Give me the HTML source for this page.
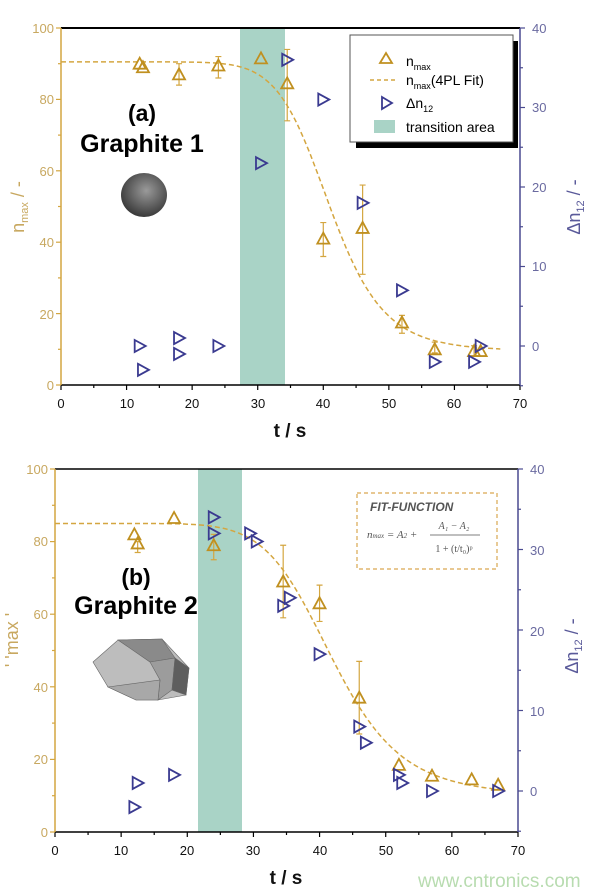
<!DOCTYPE html>
<html><head><meta charset="utf-8"><style>
body{margin:0;background:#fff;width:600px;height:895px;overflow:hidden}
svg{display:block;font-family:"Liberation Sans",Arial,sans-serif}
.tl{fill:#c8a860;font-size:13px}
.tr{fill:#6a6aa0;font-size:13px}
.tx{fill:#111;font-size:13px;text-anchor:middle}
</style></head><body>
<svg id="s" width="600" height="895" viewBox="0 0 600 895" xmlns="http://www.w3.org/2000/svg">
<!-- TOP CHART -->
<rect x="240" y="28" width="45" height="357" fill="#a9d3c6"/>
<g id="top"></g>
<line x1="61" y1="28" x2="520" y2="28" stroke="#000" stroke-width="2"/>
<line x1="61" y1="385" x2="520" y2="385" stroke="#000" stroke-width="1.5"/>
<line x1="61" y1="28" x2="61" y2="385" stroke="#d4a640" stroke-width="1.5"/>
<line x1="520" y1="28" x2="520" y2="385" stroke="#4a4a90" stroke-width="1.5"/>
<g class="tl" text-anchor="end">
<text x="54" y="33">100</text><text x="54" y="104">80</text><text x="54" y="176">60</text><text x="54" y="247">40</text><text x="54" y="319">20</text><text x="54" y="390">0</text></g>
<g class="tr"><text x="532" y="33">40</text><text x="532" y="112">30</text><text x="532" y="192">20</text><text x="532" y="271">10</text><text x="532" y="351">0</text></g>
<g class="tx"><text x="61" y="408">0</text><text x="127" y="408">10</text><text x="192" y="408">20</text><text x="258" y="408">30</text><text x="323" y="408">40</text><text x="389" y="408">50</text><text x="454" y="408">60</text><text x="520" y="408">70</text></g>
<text x="290" y="437" font-size="19" font-weight="bold" text-anchor="middle" fill="#111">t / s</text>
<text x="142" y="121" font-size="23" font-weight="bold" text-anchor="middle">(a)</text>
<text x="142" y="152" font-size="25" font-weight="bold" text-anchor="middle">Graphite 1</text>
<defs><radialGradient id="g1" cx="0.55" cy="0.4" r="0.6"><stop offset="0" stop-color="#9a9a9a"/><stop offset="1" stop-color="#3a3a3a"/></radialGradient></defs>
<ellipse cx="144" cy="195" rx="23" ry="22" fill="url(#g1)"/>
<text transform="translate(24,207) rotate(-90)" font-size="18" fill="#c8a860" text-anchor="middle">n<tspan font-size="11" dy="4">max</tspan><tspan dy="-4"> / -</tspan></text>
<text transform="translate(580,207) rotate(-90)" font-size="18" fill="#5a5a9a" text-anchor="middle">Δn<tspan font-size="11" dy="4">12</tspan><tspan dy="-4"> / -</tspan></text>
<!-- legend -->
<rect x="356" y="41" width="162" height="107" fill="#000"/>
<rect x="350" y="35" width="163" height="107" fill="#fff" stroke="#555" stroke-width="1"/>
<path d="M380,63 L386,53 L392,63 Z" fill="none" stroke="#c09020" stroke-width="1.8"/>
<text x="406" y="66" font-size="14">n<tspan font-size="9" dy="4">max</tspan></text>
<line x1="370" y1="80" x2="398" y2="80" stroke="#d4a640" stroke-width="1.5" stroke-dasharray="4,3"/>
<text x="406" y="85" font-size="14">n<tspan font-size="9" dy="4">max</tspan><tspan dy="-4">(4PL Fit)</tspan></text>
<path d="M382,97 L392,103 L382,109 Z" fill="none" stroke="#3a3a90" stroke-width="1.8"/>
<text x="406" y="108" font-size="14">Δn<tspan font-size="9" dy="4">12</tspan></text>
<rect x="374" y="120" width="21" height="13" fill="#a9d3c6"/>
<text x="406" y="132" font-size="14">transition area</text>

<!-- BOTTOM CHART -->
<rect x="198" y="469" width="44" height="363" fill="#a9d3c6"/>
<g id="bot"></g>
<line x1="55" y1="469" x2="518" y2="469" stroke="#000" stroke-width="1.5"/>
<line x1="55" y1="832" x2="518" y2="832" stroke="#000" stroke-width="1.5"/>
<line x1="55" y1="469" x2="55" y2="832" stroke="#d4a640" stroke-width="1.5"/>
<line x1="518" y1="469" x2="518" y2="832" stroke="#4a4a90" stroke-width="1.5"/>
<g class="tl" text-anchor="end">
<text x="48" y="474">100</text><text x="48" y="546">80</text><text x="48" y="619">60</text><text x="48" y="692">40</text><text x="48" y="764">20</text><text x="48" y="837">0</text></g>
<g class="tr"><text x="530" y="474">40</text><text x="530" y="555">30</text><text x="530" y="636">20</text><text x="530" y="716">10</text><text x="530" y="796">0</text></g>
<g class="tx"><text x="55" y="855">0</text><text x="121" y="855">10</text><text x="187" y="855">20</text><text x="253" y="855">30</text><text x="320" y="855">40</text><text x="386" y="855">50</text><text x="452" y="855">60</text><text x="518" y="855">70</text></g>
<text x="286" y="884" font-size="19" font-weight="bold" text-anchor="middle" fill="#111">t / s</text>
<text x="136" y="585" font-size="23" font-weight="bold" text-anchor="middle">(b)</text>
<text x="136" y="614" font-size="25" font-weight="bold" text-anchor="middle">Graphite 2</text>
<g stroke="#666" stroke-width="0.6">
<polygon points="93,662 118,640 162,639 189,668 186,695 158,700 136,700 108,687" fill="#bdbdbd"/>
<polygon points="118,640 162,639 175,658 150,662" fill="#8a8a8a"/>
<polygon points="150,662 175,658 172,690 158,700 160,680" fill="#9c9c9c"/>
<polygon points="175,658 189,668 186,695 172,690" fill="#5e5e5e"/>
<polygon points="108,687 136,700 158,700 160,680" fill="#a8a8a8"/>
</g>
<text transform="translate(18,640) rotate(-90)" font-size="18" fill="#c8a860" text-anchor="middle">' 'max '</text>
<text transform="translate(578,646) rotate(-90)" font-size="18" fill="#5a5a9a" text-anchor="middle">Δn<tspan font-size="11" dy="4">12</tspan><tspan dy="-4"> / -</tspan></text>
<rect x="357" y="493" width="140" height="76" fill="#fff" stroke="#d9a850" stroke-width="1.2" stroke-dasharray="4,3"/>
<text x="370" y="511" font-size="12" font-weight="bold" font-style="italic" fill="#555">FIT-FUNCTION</text>
<text x="367" y="538" font-size="11" font-style="italic" fill="#555" font-family="Liberation Serif,serif">n<tspan font-size="7">max</tspan> = A<tspan font-size="7">2</tspan> +</text>
<text x="454" y="529" font-size="10" font-style="italic" fill="#555" font-family="Liberation Serif,serif" text-anchor="middle">A₁ − A₂</text>
<line x1="430" y1="535" x2="480" y2="535" stroke="#555" stroke-width="0.8"/>
<text x="454" y="552" font-size="10" fill="#555" font-family="Liberation Serif,serif" text-anchor="middle">1 + (t/t₀)ᵖ</text>
<text x="418" y="887" font-size="19" fill="#b8dcb0">www.cntronics.com</text>
<g id="ticks"></g>
</svg>
<script>
var NS="http://www.w3.org/2000/svg";
function el(p,n,a){var e=document.createElementNS(NS,n);for(var k in a)e.setAttribute(k,a[k]);p.appendChild(e);return e;}
function build(g,X,Y,R,fit,tmax,tri,err,rt){
 var d="";for(var t=0;t<=tmax;t+=0.5){d+=(t?"L":"M")+X(t).toFixed(1)+","+Y(fit(t)).toFixed(1);}
 el(g,"path",{d:d,fill:"none",stroke:"#d4a640","stroke-width":1.5,"stroke-dasharray":"5,3"});
 err.forEach(function(e){var x=X(e[0]);el(g,"path",{d:"M"+x+","+Y(e[1])+"V"+Y(e[2])+"M"+(x-3)+","+Y(e[1])+"h6M"+(x-3)+","+Y(e[2])+"h6",stroke:"#d4a640","stroke-width":1.2,fill:"none"});});
 tri.forEach(function(p){var x=X(p[0]),y=Y(p[1]);el(g,"path",{d:"M"+(x-6)+","+(y+5)+"L"+x+","+(y-6)+"L"+(x+6)+","+(y+5)+"Z",fill:"none",stroke:"#c09020","stroke-width":1.8});});
 rt.forEach(function(p){var x=X(p[0]),y=R(p[1]);el(g,"path",{d:"M"+(x-5)+","+(y-6)+"L"+(x+6)+","+y+"L"+(x-5)+","+(y+6)+"Z",fill:"none",stroke:"#3a3a90","stroke-width":1.8});});
}
function ticks(x0,x1,y0,y1,rz,rs){
 var g=document.getElementById("ticks"),i,x,y;
 for(i=0;i<=14;i++){x=x0+(x1-x0)*i/14;el(g,"line",{x1:x,x2:x,y1:y1,y2:y1+(i%2?3:5),stroke:"#000","stroke-width":1.2});}
 for(i=0;i<=10;i++){y=y1-(y1-y0)*i/10;el(g,"line",{x1:x0,x2:x0-(i%2?3:5),y1:y,y2:y,stroke:"#d4a640","stroke-width":1.2});}
 for(i=-0.5;i<=4;i+=0.5){y=rz-i*10*rs;if(y<y0-1||y>y1+1)continue;el(g,"line",{x1:x1,x2:x1+((i*2)%2?3:5),y1:y,y2:y,stroke:"#4a4a90","stroke-width":1.2});}
}
ticks(61,520,28,385,346,7.95);
ticks(55,518,469,832,791,8.05);
build(document.getElementById("top"),
 function(t){return 61+t*6.557},function(v){return 385-v*3.57},function(r){return 346-r*7.95},
 function(t){return 9.5+81/(1+Math.pow(t/41,10))},67,
 [[12,90],[12.5,89],[18,87],[24,89.5],[30.5,91.5],[34.5,84.5],[40,41],[46,44],[52,17.5],[57,10],[63,9.5],[64,9.5]],
 [[18,84,90],[24,86,92],[34.5,74,94],[40,36,45.5],[46,31,56],[52,14.5,19.5],[57,9,12],[63,8,11]],
 [[12,0],[12.5,-3],[18,1],[18,-1],[24,0],[30.5,23],[34.5,36],[40,31],[46,18],[52,7],[57,-2],[63,-2],[64,0]]);
build(document.getElementById("bot"),
 function(t){return 55+t*6.614},function(v){return 832-v*3.63},function(r){return 791-r*8.05},
 function(t){return 10+75/(1+Math.pow(t/42,8))},67,
 [[12,82],[12.5,79.5],[18,86.5],[24,79],[34.5,69],[40,63],[46,37],[52,18.5],[57,15.5],[63,14.5],[67,13]],
 [[12.5,77,80],[24,75,82],[34.5,59,79],[40,58,68],[46,27,47]],
 [[12,-2],[12.5,1],[18,2],[24,34],[24,32],[29.5,32],[30.5,31],[34.5,23],[35.5,24],[40,17],[46,8],[47,6],[52,2],[52.5,1],[57,0],[67,0]]);
</script>
</body></html>
